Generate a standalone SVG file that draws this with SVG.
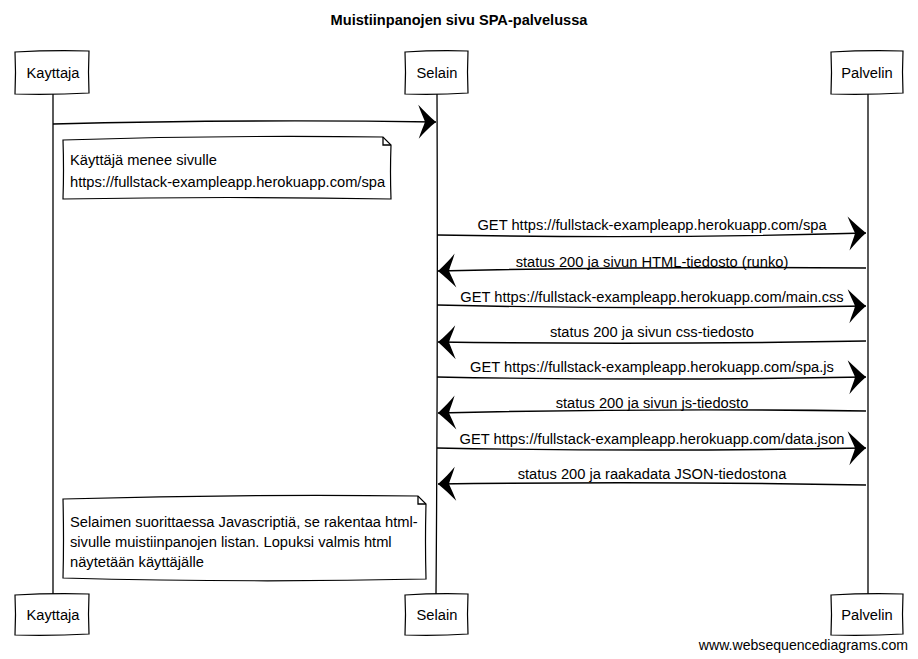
<svg xmlns="http://www.w3.org/2000/svg" width="918" height="659" viewBox="0 0 918 659">
<style>
text{font-family:"Liberation Sans",Arial,sans-serif;font-size:14.7px;fill:#000}
.t{font-size:14.6px;font-weight:bold;text-anchor:middle}
.c{text-anchor:middle}
.f{font-size:14.1px;text-anchor:end}
.ln{fill:none;stroke:#000;stroke-width:1.3}
.bx{fill:#fff;stroke:#000;stroke-width:1.2}
.msg{fill:none;stroke:#000;stroke-width:1.4;marker-end:url(#ah)}
</style>
<defs>
<marker id="ah" markerUnits="userSpaceOnUse" viewBox="-20 -18 22 36" refX="0" refY="0" markerWidth="22" markerHeight="36" orient="auto">
<path d="M0,0 C-6,-5 -13,-12 -18,-17 C-15,-9 -12,-3 -11,0 C-12,4 -15,10 -17,17 C-12,11 -6,5 0,0 Z" fill="#000"/>
</marker>
</defs>
<rect width="918" height="659" fill="#fff"/>
<text class="t" x="459" y="25">Muistiinpanojen sivu SPA-palvelussa</text>
<g id="lifelines">
<path class="ln" d="M53,93 Q52,340 53,595"/>
<path class="ln" d="M437,93 Q438,340 436,595"/>
<path class="ln" d="M868,93 Q867,340 868,595"/>
</g>
<g id="kayttaja">
<path class="bx" d="M15,52 Q52,50 89,51 Q88,72 89,93 Q52,95 15,94 Q16,72 15,52 Z"/>
<text class="c" x="53" y="78">Kayttaja</text>
<path class="bx" d="M15,595 Q52,593 89,594 Q88,614 89,634 Q52,636 15,635 Q16,614 15,595 Z"/>
<text class="c" x="53" y="620">Kayttaja</text>
</g>
<g id="selain">
<path class="bx" d="M405,52 Q437,50 468,51 Q467,72 468,93 Q437,95 405,94 Q406,72 405,52 Z"/>
<text class="c" x="437" y="78">Selain</text>
<path class="bx" d="M405,595 Q437,593 468,594 Q467,614 468,634 Q437,636 405,635 Q406,614 405,595 Z"/>
<text class="c" x="437" y="620">Selain</text>
</g>
<g id="palvelin">
<path class="bx" d="M831,52 Q867,50 903,51 Q902,72 903,93 Q867,95 831,94 Q832,72 831,52 Z"/>
<text class="c" x="867" y="78">Palvelin</text>
<path class="bx" d="M831,595 Q867,593 903,594 Q902,614 903,634 Q867,636 831,635 Q832,614 831,595 Z"/>
<text class="c" x="867" y="620">Palvelin</text>
</g>
<g id="note1">
<path class="bx" d="M63,140 Q220,135 383,137 L391,145 Q390,172 391,199 Q230,196 63,199 Q64,170 63,140 Z"/>
<path class="ln" d="M383,137 L383,145 L391,145" stroke-width="0.8"/>
<text x="70" y="165">Käyttäjä menee sivulle</text>
<text x="70" y="187">https://fullstack-exampleapp.herokuapp.com/spa</text>
</g>
<g id="note2">
<path class="bx" d="M63,499 Q240,494 418,496 L426,504 Q425,542 426,579 Q250,583 63,578 Q64,540 63,499 Z"/>
<path class="ln" d="M418,496 L418,504 L426,504" stroke-width="0.8"/>
<text x="70" y="527">Selaimen suorittaessa Javascriptiä, se rakentaa html-</text>
<text x="70" y="547">sivulle muistiinpanojen listan. Lopuksi valmis html</text>
<text x="70" y="567">näytetään käyttäjälle</text>
</g>
<g id="connectors">
<path class="msg" d="M53,124 Q250,119 436,122"/>
<path class="msg" d="M437,235 Q660,239 866,233"/>
<path class="msg" d="M866,268 Q650,266 438,271"/>
<path class="msg" d="M437,305 Q650,310 866,306"/>
<path class="msg" d="M866,341 Q650,345 438,342"/>
<path class="msg" d="M437,377 Q650,381 866,377"/>
<path class="msg" d="M866,411 Q650,408 438,413"/>
<path class="msg" d="M437,448 Q650,452 866,448"/>
<path class="msg" d="M866,485 Q650,481 438,484"/>
</g>
<g id="labels">
<text class="c" x="652" y="230">GET https://fullstack-exampleapp.herokuapp.com/spa</text>
<text class="c" x="652" y="267">status 200 ja sivun HTML-tiedosto (runko)</text>
<text class="c" x="652" y="302">GET https://fullstack-exampleapp.herokuapp.com/main.css</text>
<text class="c" x="652" y="337">status 200 ja sivun css-tiedosto</text>
<text class="c" x="652" y="372">GET https://fullstack-exampleapp.herokuapp.com/spa.js</text>
<text class="c" x="652" y="408">status 200 ja sivun js-tiedosto</text>
<text class="c" x="652" y="444">GET https://fullstack-exampleapp.herokuapp.com/data.json</text>
<text class="c" x="652" y="479">status 200 ja raakadata JSON-tiedostona</text>
</g>
<text class="f" x="908" y="650">www.websequencediagrams.com</text>
</svg>
